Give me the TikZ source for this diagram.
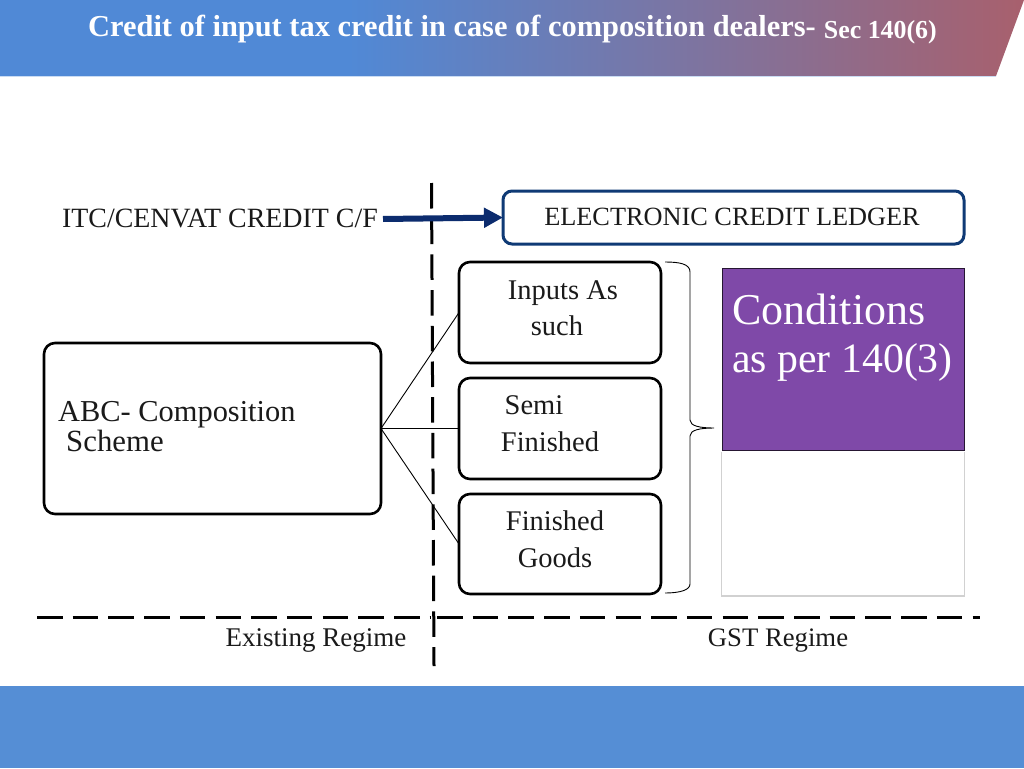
\documentclass[tikz,border=0pt]{standalone}
\usepackage{fontspec}
\setmainfont{Liberation Serif}
\usetikzlibrary{positioning,arrows.meta}
\definecolor{headblue}{HTML}{5089D6}
\definecolor{headrose}{HTML}{A8606D}
\definecolor{footblue}{HTML}{558ED5}
\definecolor{ledgernavy}{HTML}{0F3A75}
\definecolor{arrownavy}{HTML}{0C2C6E}
\definecolor{condpurple}{HTML}{7F49A8}
\definecolor{labelgray}{HTML}{1A1A1A}
\pgfdeclarehorizontalshading{headshade}{100bp}{color(0bp)=(headblue); color(42bp)=(headblue); color(75bp)=(headrose); color(100bp)=(headrose)}
\tikzset{
  itembox/.style={draw=black, line width=2.6pt, rounded corners=11pt, fill=white, anchor=north west, inner sep=0pt, outer sep=0pt},
  itemtext/.style={font=\fontsize{#1}{#1}\selectfont, text=labelgray, inner sep=0pt},
  itemtext/.default=28.5,
  condtext/.style={font=\fontsize{#1}{#1}\selectfont, text=white, anchor=base west, inner sep=0pt},
  regime/.style={dash pattern=on 25.5pt off 10.2pt, line width=3pt, black},
  spoke/.style={black, line width=0.9pt}
}
\begin{document}
\begin{tikzpicture}[x=1pt, y=-1pt]
  \useasboundingbox (0,0) rectangle (1024,768);
  \fill[white] (0,0) rectangle (1024,768);
  \shade[shading=headshade] (0,0) -- (1024,0) -- (996,76) -- (0,76) -- cycle;
  \draw[white!70!headblue, line width=1pt] (0,76) -- (996,76);
  \fill[footblue] (0,686) rectangle (1024,768);
  \node[font=\fontsize{30.4}{31}\bfseries, text=white, anchor=base west, inner sep=0pt] (headline) at (88,37) {Credit of input tax credit in case of composition dealers-};
  \node[font=\fontsize{25.9}{27}\bfseries, text=white, anchor=base east, inner sep=0pt] (headsec) at (937,38) {Sec 140(6)};

  \draw[regime] (431.5,183) -- (434,666);
  \draw[regime] (37,617) -- (430,617);
  \draw[regime] (437,617) -- (980,617);

  \node[itembox, minimum width=337pt, minimum height=171pt] (scheme) at (44,343) {};
  \node[itembox, minimum width=202pt, minimum height=101pt] (inputs) at (459,262) {};
  \node[itembox, minimum width=202pt, minimum height=101pt] (semi) at (459,378) {};
  \node[itembox, minimum width=202pt, minimum height=100pt] (finished) at (459,494) {};
  \node[draw=ledgernavy, line width=3pt, rounded corners=9pt, fill=white, anchor=north west, minimum width=461pt, minimum height=53pt, inner sep=0pt, outer sep=0pt] (ledger) at (503,191) {};
  \node[itemtext=26.3, anchor=base] (ledgertext) at (732,225) {ELECTRONIC CREDIT LEDGER};

  \node[itemtext=27.9, anchor=base east] (carry) at (378,227) {ITC/CENVAT CREDIT C/F};
  \coordinate (carrytail) at (383,219);
  \draw[arrownavy, line width=6pt, -{Triangle[length=19pt, width=19pt]}] (carrytail) -- (ledger.west);

  \draw[spoke] (scheme.east) -- (inputs.west);
  \draw[spoke] (scheme.east) -- (semi.west);
  \draw[spoke] (scheme.east) -- (finished.west);

  \node[itemtext=30.4, anchor=base west] (schemeone) at (58,421) {ABC- Composition};
  \node[itemtext=30.8, anchor=base west] (schemetwo) at (66,451) {Scheme};
  \node[itemtext, anchor=base] (inputsone) at (563,299) {Inputs As};
  \node[itemtext, anchor=base] (inputstwo) at (557,335) {such};
  \node[itemtext, anchor=base] (semione) at (534,414) {Semi};
  \node[itemtext, anchor=base] (semitwo) at (550,451) {Finished};
  \node[itemtext, anchor=base] (finishedone) at (555,530) {Finished};
  \node[itemtext, anchor=base] (finishedtwo) at (555,567) {Goods};

  \draw[black, line width=0.9pt] (665,262) .. controls (680,262) and (690,264) .. (690,272) -- (690,420) .. controls (690,426) and (700,428) .. (714,428) .. controls (700,428) and (690,430) .. (690,436) -- (690,584) .. controls (690,590) and (680,593) .. (665,593);

  \fill[black!18] (721,452) rectangle (965,597);
  \fill[white] (722,450) rectangle (964,595);
  \node[draw=black!70!condpurple, line width=0.8pt, fill=condpurple, anchor=north west, minimum width=242pt, minimum height=182pt, inner sep=0pt, outer sep=0pt] (conditions) at (722,268) {};
  \node[condtext=44] (condone) at (732,324) {Conditions};
  \node[condtext=41.8] (condtwo) at (732,372) {as per 140(3)};

  \node[itemtext=27, anchor=base] (oldregime) at (316,646) {Existing Regime};
  \node[itemtext=26.7, anchor=base] (newregime) at (778,646) {GST Regime};
\end{tikzpicture}
\end{document}
